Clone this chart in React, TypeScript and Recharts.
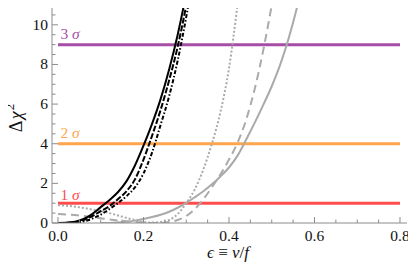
import React from "react"
import { LineChart, Line, XAxis, YAxis } from "recharts"

// shared ε grid (x values)
const epsGrid = [
  0, 0.02, 0.04, 0.06, 0.08, 0.1, 0.12, 0.14, 0.16, 0.18, 0.2, 0.22, 0.24, 0.26, 0.28, 0.3, 0.32, 0.34, 0.36, 0.38,
  0.4, 0.42, 0.44, 0.46, 0.48, 0.5, 0.52, 0.54, 0.56, 0.58, 0.6, 0.62, 0.64, 0.66, 0.68, 0.7, 0.72, 0.74, 0.76, 0.78, 0.8,
]

// Δχ² curves (null = not drawn)
const blackSolid = [0, 0.01, 0.06, 0.2, 0.45, 0.8, 1.15, 1.55, 2.1, 2.9, 3.9, 5.0, 6.25, 7.75, 9.5, 11.6, 14]
const blackDashed = [0, 0.01, 0.04, 0.15, 0.35, 0.6, 0.85, 1.2, 1.6, 2.2, 3.2, 4.4, 5.7, 7.2, 8.9, 11, 13.5]
const blackDotDash = [0, 0, 0.02, 0.08, 0.22, 0.42, 0.7, 1.0, 1.35, 1.8, 2.5, 3.55, 4.95, 6.4, 8.2, 10.4, 13]
const grayDotted = [
  0.9, 0.87, 0.82, 0.76, 0.68, 0.6, 0.5, 0.38, 0.26, 0.15, 0.06, 0.02, 0.05, 0.15, 0.45, 1.0, 1.7, 2.7, 4.0, 5.6, 7.8,
  11, 14.5,
]
const grayDashed = [
  0.45, 0.43, 0.4, 0.36, 0.3, 0.24, 0.18, 0.13, 0.09, 0.05, 0.02, 0, 0, 0.05, 0.15, 0.35, 0.7, 1.2, 1.8, 2.45, 3.2, 4.05,
  5.2, 6.75, 8.7, 11, 13.5,
]
const graySolid = [
  null, null, null, null, null, 0, 0.005, 0.02, 0.06, 0.12, 0.2, 0.3, 0.42, 0.57, 0.77, 1.02, 1.3, 1.6, 1.95, 2.35, 2.8,
  3.4, 4.2, 5.05, 5.95, 6.9, 8.0, 9.35, 10.95, 12.8,
]

// confidence levels
const sigmaLevels = [1, 4, 9]
const sigmaNames = ["1", "2", "3"]

// ticks
const xTicks = [0, 0.05, 0.1, 0.15, 0.2, 0.25, 0.3, 0.35, 0.4, 0.45, 0.5, 0.55, 0.6, 0.65, 0.7, 0.75, 0.8]
const xMajorTicks = [0, 0.2, 0.4, 0.6, 0.8]
const yTicks = [
  0, 0.5, 1, 1.5, 2, 2.5, 3, 3.5, 4, 4.5, 5, 5.5, 6, 6.5, 7, 7.5, 8, 8.5, 9, 9.5, 10, 10.5,
]
const yMajorTicks = [0, 2, 4, 6, 8, 10]

const FRAME = "#8c8c8c"
const serif = { fontFamily: '"Liberation Serif", "Times New Roman", serif' }
const sigmaColors = ["#ff4d4d", "#ffa64d", "#a64da6"]
const sigmaDy = [-3, -5.5, -5.5]

const rows = epsGrid.map((eps, i) => ({
  eps,
  blackSolid: blackSolid[i] ?? null,
  blackDashed: blackDashed[i] ?? null,
  blackDotDash: blackDotDash[i] ?? null,
  grayDotted: grayDotted[i] ?? null,
  grayDashed: grayDashed[i] ?? null,
  graySolid: graySolid[i] ?? null,
  sig0: sigmaLevels[0],
  sig1: sigmaLevels[1],
  sig2: sigmaLevels[2],
}))

const isMajor = (list: number[], v: number) => list.some((m) => Math.abs(m - v) < 1e-9)

function BottomTick({ x, y, payload }: any) {
  const major = isMajor(xMajorTicks, payload.value)
  return (
    <g>
      <line x1={x} y1={y} x2={x} y2={y - (major ? 6 : 3.5)} stroke={FRAME} />
      {major && (
        <text x={x} y={y + 17.5} textAnchor="middle" style={serif} fontSize={15.5} fill="#111">
          {payload.value.toFixed(1)}
        </text>
      )}
    </g>
  )
}

function TopTick({ x, y, payload }: any) {
  const major = isMajor(xMajorTicks, payload.value)
  return <line x1={x} y1={y} x2={x} y2={y + (major ? 6 : 3.5)} stroke={FRAME} />
}

function LeftTick({ x, y, payload }: any) {
  const major = isMajor(yMajorTicks, payload.value)
  return (
    <g>
      <line x1={x} y1={y} x2={x + (major ? 6 : 3.5)} y2={y} stroke={FRAME} />
      {major && (
        <text x={x - 4} y={y + 5} textAnchor="end" style={serif} fontSize={15.5} fill="#111">
          {payload.value}
        </text>
      )}
    </g>
  )
}

function RightTick({ x, y, payload }: any) {
  const major = isMajor(yMajorTicks, payload.value)
  return <line x1={x} y1={y} x2={x - (major ? 6 : 3.5)} y2={y} stroke={FRAME} />
}

function XTitle() {
  return (
    <text x={228} y={258} textAnchor="middle" style={serif} fontSize={17} fill="#111">
      <tspan fontStyle="italic">ϵ</tspan>
      <tspan> ≡ </tspan>
      <tspan fontStyle="italic">v</tspan>
      <tspan>/</tspan>
      <tspan fontStyle="italic">f</tspan>
    </text>
  )
}

function YTitle() {
  return (
    <text x={22} y={118} transform="rotate(-90 22 118)" textAnchor="middle" style={serif} fontSize={18} fill="#111">
      <tspan>Δ</tspan>
      <tspan dx={1.5} fontStyle="italic">χ</tspan>
      <tspan dx={1} dy={-8} fontSize={13}>
        2
      </tspan>
    </text>
  )
}

const sigmaLabel = (k: number) => (props: any) => {
  if (props.index !== 0) return null
  return (
    <text x={props.x + 2.5} y={props.y + sigmaDy[k]} style={serif} fontSize={15.5} fill={sigmaColors[k]}>
      {sigmaNames[k]} <tspan fontStyle="italic">σ</tspan>
    </text>
  )
}

export default function App() {
  return (
    <div style={{ margin: -8 }}>
      <LineChart width={416} height={276} data={rows} margin={{ top: 5, right: 9, bottom: 0, left: 0 }}>
        <XAxis
          dataKey="eps"
          type="number"
          domain={[-0.014, 0.8164]}
          allowDataOverflow
          ticks={xTicks}
          interval={0}
          tickSize={0}
          tickMargin={0}
          height={53}
          stroke={FRAME}
          tick={<BottomTick />}
          label={<XTitle />}
        />
        <XAxis
          xAxisId="top"
          orientation="top"
          dataKey="eps"
          type="number"
          domain={[-0.014, 0.8164]}
          allowDataOverflow
          ticks={xTicks}
          interval={0}
          tickSize={0}
          tickMargin={0}
          height={0}
          stroke={FRAME}
          tick={<TopTick />}
        />
        <YAxis
          type="number"
          domain={[0, 11]}
          allowDataOverflow
          ticks={yTicks}
          interval={0}
          tickSize={0}
          tickMargin={0}
          width={52}
          stroke={FRAME}
          tick={<LeftTick />}
          label={<YTitle />}
        />
        <YAxis
          yAxisId="right"
          orientation="right"
          type="number"
          domain={[0, 11]}
          allowDataOverflow
          ticks={yTicks}
          interval={0}
          tickSize={0}
          tickMargin={0}
          width={0}
          stroke={FRAME}
          tick={<RightTick />}
        />

        {sigmaLevels.map((_, k) => (
          <Line
            key={`sig${k}`}
            dataKey={`sig${k}`}
            type="linear"
            stroke={sigmaColors[k]}
            strokeWidth={3}
            dot={false}
            label={sigmaLabel(k)}
            isAnimationActive={false}
          />
        ))}

        <Line dataKey="graySolid" type="monotone" stroke="#aaaaaa" strokeWidth={2} dot={false} isAnimationActive={false} />
        <Line
          dataKey="grayDashed"
          type="monotone"
          stroke="#aaaaaa"
          strokeWidth={2}
          strokeDasharray="8 5"
          dot={false}
          isAnimationActive={false}
        />
        <Line
          dataKey="grayDotted"
          type="monotone"
          stroke="#aaaaaa"
          strokeWidth={2}
          strokeDasharray="2 2"
          dot={false}
          isAnimationActive={false}
        />
        <Line dataKey="blackSolid" type="monotone" stroke="#000" strokeWidth={2} dot={false} isAnimationActive={false} />
        <Line
          dataKey="blackDashed"
          type="monotone"
          stroke="#000"
          strokeWidth={2}
          strokeDasharray="6 2"
          dot={false}
          isAnimationActive={false}
        />
        <Line
          dataKey="blackDotDash"
          type="monotone"
          stroke="#000"
          strokeWidth={2}
          strokeDasharray="4 2 1.5 2"
          dot={false}
          isAnimationActive={false}
        />
      </LineChart>
    </div>
  )
}
